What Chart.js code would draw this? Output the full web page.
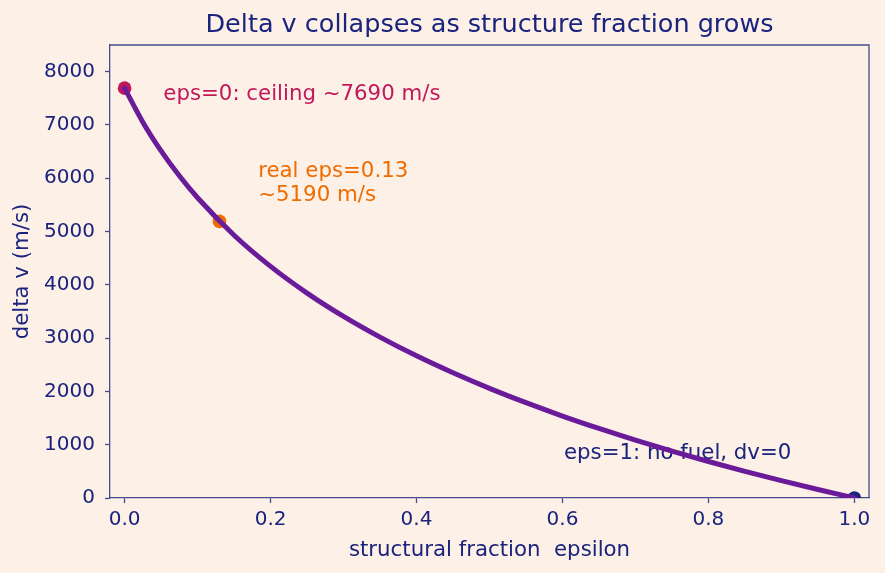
<!DOCTYPE html>
<html>
<head>
<meta charset="utf-8">
<script src="https://cdn.jsdelivr.net/npm/chart.js@4.4.1/dist/chart.umd.min.js"></script>
<style>
  html, body { margin: 0; padding: 0; background: #fdf1e7; }
  #wrap { width: 885px; height: 573px; }
</style>
</head>
<body>
<div id="wrap"><canvas id="dvChart" width="885" height="573"></canvas></div>
<script>
// structure fraction vs delta v
const epsValues = [0, 0.025, 0.05, 0.075, 0.10, 0.15, 0.20, 0.25, 0.30, 0.35, 0.40, 0.45, 0.50,
                   0.55, 0.60, 0.65, 0.70, 0.75, 0.80, 0.85, 0.90, 0.95, 1.00];
const dvValues  = [7690, 7052, 6513, 6045, 5633, 4931, 4346, 3845, 3407, 3018, 2667, 2349, 2057,
                   1788, 1538, 1305, 1086, 880, 685, 501, 326, 159, 0];

const ceilingPt = [0, 7690];
const realPt    = [0.13, 5190];
const emptyPt   = [1.0, 0];

const xTicks = [0, 0.2, 0.4, 0.6, 0.8, 1.0];
const yTicks = [0, 1000, 2000, 3000, 4000, 5000, 6000, 7000, 8000];

const notes = [
  { lines: ['eps=0: ceiling ~7690 m/s'], x: 0.053, y: 7580, color: '#c2185b' },
  { lines: ['real eps=0.13', '~5190 m/s'], x: 0.183, y: 6120, color: '#ef6c00' },
  { lines: ['eps=1: no fuel, dv=0'], x: 0.602, y: 845, color: '#1a237e' }
];

const navy = '#1a237e';
const spine = '#474b8c';
const font = 'DejaVu Sans';

const curve = epsValues.map((e, i) => ({ x: e, y: dvValues[i] }));

const notesPlugin = {
  id: 'notes',
  beforeDatasetsDraw(chart) {
    const { ctx, scales: { x, y } } = chart;
    ctx.save();
    ctx.font = `21.3px "${font}"`;
    ctx.textAlign = 'left';
    ctx.textBaseline = 'middle';
    notes.forEach(n => {
      ctx.fillStyle = n.color;
      const px = x.getPixelForValue(n.x);
      const py = y.getPixelForValue(n.y);
      n.lines.forEach((t, i) => ctx.fillText(t, px, py + i * 24));
    });
    ctx.restore();
  }
};

const bgPlugin = {
  id: 'bg',
  beforeDraw(chart) {
    const ctx = chart.ctx;
    ctx.save();
    ctx.fillStyle = '#fdf1e7';
    ctx.fillRect(0, 0, chart.width, chart.height);
    ctx.restore();
  }
};

const pt = (p, color, clip) => ({
  data: [{ x: p[0], y: p[1] }],
  showLine: false,
  pointRadius: 6.8,
  pointHoverRadius: 6.8,
  pointBackgroundColor: color,
  pointBorderColor: color,
  pointBorderWidth: 0,
  clip: clip
});

new Chart(document.getElementById('dvChart'), {
  type: 'scatter',
  data: {
    datasets: [
      {
        data: curve,
        showLine: true,
        borderColor: '#6a1b9a',
        borderWidth: 5,
        pointRadius: 0,
        cubicInterpolationMode: 'monotone',
        borderCapStyle: 'round'
      },
      pt(ceilingPt, '#c2185b'),
      pt(realPt, '#ef6c00'),
      pt(emptyPt, navy, 0)
    ]
  },
  options: {
    responsive: false,
    animation: false,
    layout: { padding: { left: 0, right: 16, top: 0, bottom: 0 } },
    plugins: {
      legend: { display: false },
      tooltip: { enabled: false },
      title: {
        display: true,
        fullSize: false,
        text: 'Delta v collapses as structure fraction grows',
        color: navy,
        font: { family: font, size: 25.5, weight: 'normal', lineHeight: 1.2 },
        padding: { top: 10, bottom: 4.4 }
      }
    },
    scales: {
      x: {
        type: 'linear',
        min: -0.02,
        max: 1.02,
        afterBuildTicks: s => { s.ticks = xTicks.map(v => ({ value: v })); },
        afterFit: s => { s.height = 75; },
        ticks: {
          color: navy,
          padding: 5,
          font: { family: font, size: 20 },
          callback: v => Number(v).toFixed(1)
        },
        grid: { display: true, drawOnChartArea: false, drawTicks: true, tickLength: 5, color: spine, tickWidth: 1.3 },
        border: { display: true, color: spine, width: 1.3 },
        title: {
          display: true,
          text: 'structural fraction  epsilon',
          color: navy,
          font: { family: font, size: 21.3 },
          padding: { top: 0, bottom: 10 }
        }
      },
      y: {
        type: 'linear',
        min: 0,
        max: 8500,
        afterBuildTicks: s => { s.ticks = yTicks.map(v => ({ value: v })); },
        afterFit: s => { s.width = 110; },
        ticks: {
          color: navy,
          padding: 10,
          font: { family: font, size: 20 },
          callback: v => String(v)
        },
        grid: { display: true, drawOnChartArea: false, drawTicks: true, tickLength: 5, color: spine, tickWidth: 1.3 },
        border: { display: true, color: spine, width: 1.3 },
        title: {
          display: true,
          text: 'delta v (m/s)',
          color: navy,
          font: { family: font, size: 21.3 },
          padding: { top: 10, bottom: 0 }
        }
      }
    }
  },
  plugins: [bgPlugin, notesPlugin, {
    id: 'frame',
    afterDatasetsDraw(chart) {
      const { ctx, chartArea: a } = chart;
      ctx.save();
      ctx.strokeStyle = spine;
      ctx.lineWidth = 1.3;
      ctx.beginPath();
      ctx.moveTo(a.left, a.top);
      ctx.lineTo(a.right, a.top);
      ctx.lineTo(a.right, a.bottom);
      ctx.stroke();
      ctx.restore();
    }
  }]
});
</script>
</body>
</html>
